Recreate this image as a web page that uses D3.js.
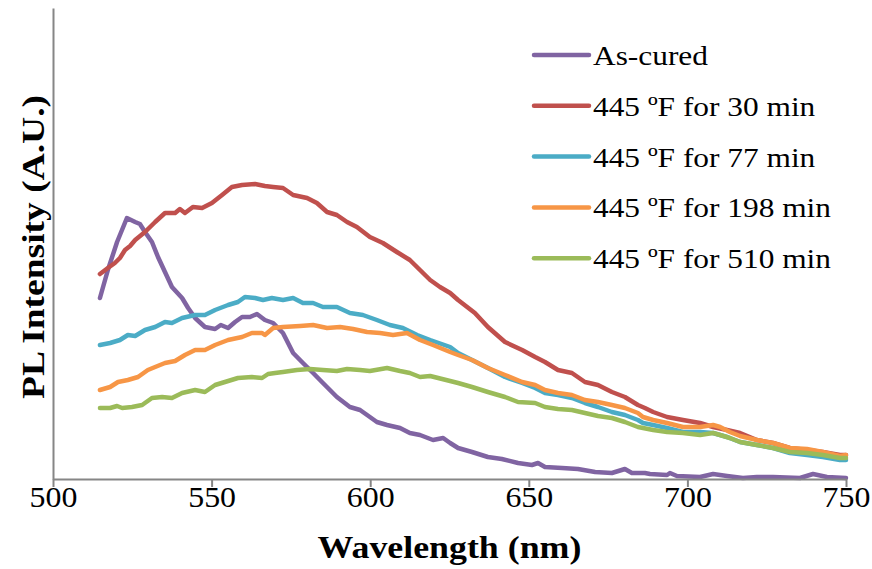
<!DOCTYPE html>
<html>
<head>
<meta charset="utf-8">
<script src="https://cdn.jsdelivr.net/npm/d3@7"></script>
<style>
  html, body { margin: 0; padding: 0; background: #fff; }
  svg text { font-family: "Liberation Serif", "Times New Roman", serif; fill: #000; }
</style>
</head>
<body>
<svg id="chart" width="872" height="569"></svg>
<script>
// PL spectra: [wavelength (nm), intensity (A.U.)]
const asCured = [
  [514.8,181],[517.3,209],[520.2,237],[523.3,261],[525.9,257],[527.4,255],[529.0,247],[531.2,237],
  [533.1,222],[535.3,207],[537.5,192],[540.7,181],[542.6,171],[544.8,161],[547.9,152],[551.1,150],
  [552.9,154],[555.2,151],[557.4,157],[559.6,162],[562.1,162],[564.3,165],[566.8,159],[569.4,156],
  [572.5,146],[575.7,126],[578.8,116],[582.0,106],[585.1,96],[589.5,82],[593.6,72],[596.8,69],
  [599.9,62],[602.1,57],[605.3,54],[609.4,51],[612.5,46],[615.7,44],[619.8,39],[623.0,41],
  [625.2,36],[627.7,31],[632.1,27],[637.1,22],[641.5,20],[646.6,16],[651.0,14],[652.9,16],
  [655.1,12],[660.5,11],[665.5,10],[670.9,7],[676.2,6],[680.3,10],[682.5,6],[686.6,6],
  [688.2,5],[693.6,4],[694.5,6],[696.7,3],[704.0,2],[708.1,5],[712.5,3],[717.5,1],
  [721.9,2],[727.0,2],[735.5,1],[739.6,5],[744.0,2],[750.0,1]
];
const f30 = [
  [514.8,205],[517.3,211],[519.5,216],[521.1,221],[522.7,229],[524.3,233],[525.9,239],[529.0,247],
  [532.2,257],[535.3,266],[538.5,266],[540.0,270],[541.6,266],[544.1,272],[547.0,271],[550.1,276],
  [553.3,284],[556.4,292],[559.6,294],[563.7,295],[566.8,293],[569.4,292],[572.5,291],[575.7,284],
  [580.1,281],[583.2,276],[586.4,267],[589.5,264],[592.7,257],[595.8,252],[599.9,242],[604.0,236],
  [608.4,227],[612.5,219],[615.7,209],[618.9,199],[622.0,192],[625.2,186],[627.7,179],[633.0,166],
  [637.1,152],[642.5,137],[647.9,129],[652.0,122],[655.1,117],[659.2,109],[663.6,106],[667.7,97],
  [671.8,94],[676.2,87],[680.3,82],[684.4,74],[686.6,71],[689.2,67],[693.6,62],[698.6,59],
  [704.0,56],[708.1,52],[712.5,49],[716.6,46],[721.9,39],[727.0,36],[732.3,31],[737.7,29],
  [742.7,27],[748.1,24],[750.0,24]
];
const f77 = [
  [514.8,134],[518.0,136],[521.1,139],[523.6,144],[525.9,143],[529.0,149],[532.2,152],[535.3,157],
  [537.5,156],[540.7,161],[544.8,164],[547.9,164],[551.1,169],[555.2,174],[558.3,177],[560.5,182],
  [563.7,181],[566.2,179],[569.0,181],[572.5,179],[575.7,181],[578.8,176],[582.0,176],[585.1,172],
  [589.5,172],[593.6,166],[597.7,164],[602.1,159],[606.2,154],[610.3,151],[614.8,144],[618.9,139],
  [625.2,132],[627.7,126],[632.1,119],[637.1,111],[642.5,102],[647.9,96],[652.0,91],[655.1,86],
  [659.2,84],[663.6,81],[667.7,76],[671.8,72],[676.2,67],[680.3,64],[684.4,59],[686.0,56],
  [689.2,54],[693.6,51],[698.6,47],[704.0,47],[708.1,46],[712.5,42],[716.6,37],[721.9,34],
  [727.0,31],[732.3,26],[737.7,24],[742.7,22],[748.1,19],[750.0,19]
];
const f198 = [
  [514.8,89],[518.0,92],[520.5,97],[523.6,99],[526.8,102],[529.9,109],[532.2,112],[535.3,116],
  [538.5,118],[541.6,124],[544.8,129],[547.9,129],[551.1,134],[555.2,139],[559.6,142],[562.7,146],
  [565.9,146],[566.8,144],[569.4,151],[572.5,152],[577.9,153],[582.0,154],[586.4,151],[590.5,152],
  [594.6,150],[599.0,147],[603.1,146],[607.2,144],[611.6,146],[615.7,139],[619.8,134],[625.2,127],
  [627.7,124],[632.1,119],[637.1,111],[642.5,104],[647.9,97],[652.0,94],[655.1,89],[659.2,86],
  [663.6,84],[667.7,79],[671.8,77],[676.2,74],[680.3,71],[684.4,66],[686.0,62],[689.2,59],
  [693.6,56],[698.6,52],[704.0,52],[708.1,54],[710.3,52],[713.4,47],[716.6,43],[721.9,39],
  [727.0,36],[732.3,31],[737.7,30],[742.7,27],[748.1,23],[750.0,24]
];
const f510 = [
  [514.8,71],[518.0,71],[520.2,73],[521.8,71],[524.9,72],[528.1,74],[531.2,81],[534.4,82],
  [537.5,81],[540.7,86],[544.8,89],[547.9,87],[551.1,94],[554.2,97],[558.3,101],[562.7,102],
  [565.9,101],[567.8,105],[570.0,106],[572.5,107],[576.9,109],[581.0,110],[585.1,109],[589.5,108],
  [592.7,110],[596.8,109],[599.9,108],[605.3,111],[609.4,108],[612.5,106],[615.7,102],[618.9,103],
  [625.2,98],[627.7,96],[632.1,92],[637.1,87],[642.5,82],[646.6,77],[652.0,76],[655.1,72],
  [659.2,70],[663.6,69],[667.7,66],[671.8,63],[676.2,61],[680.3,57],[684.4,52],[689.2,49],
  [693.6,47],[698.6,46],[704.0,44],[708.1,46],[710.3,44],[713.4,41],[716.6,37],[721.9,34],
  [727.0,31],[732.3,27],[737.7,26],[742.7,24],[748.1,21],[750.0,21]
];

const seriesNames = ["As-cured", "445 ºF for 30 min", "445 ºF for 77 min", "445 ºF for 198 min", "445 ºF for 510 min"];
const seriesData = [asCured, f30, f77, f198, f510];
const seriesColors = ["#8064A2", "#C0504D", "#4BACC6", "#F79646", "#9BBB59"];
const xTicks = [500, 550, 600, 650, 700, 750];
const xDomain = [500, 750];
const yDomain = [0, 471];

const svg = d3.select("#chart");
const axisColor = "#868686";
const hStretch = 1.1;

const x = d3.scaleLinear().domain(xDomain).range([53, 846]);
const y = d3.scaleLinear().domain(yDomain).range([479, 8]);

// widen glyphs horizontally to the chart's typeface proportions
function widen(sel, k) {
  sel.each(function () {
    const w = this.getComputedTextLength();
    d3.select(this).attr("textLength", w * k).attr("lengthAdjust", "spacingAndGlyphs");
  });
}

// spectra
const line = d3.line().x(d => x(d[0])).y(d => y(d[1])).curve(d3.curveLinear);
svg.append("g").selectAll("path")
  .data(seriesData)
  .join("path")
  .attr("d", line)
  .attr("fill", "none")
  .attr("stroke", (d, i) => seriesColors[i])
  .attr("stroke-width", 4.5)
  .attr("stroke-linejoin", "round")
  .attr("stroke-linecap", "round");

// x axis
const gx = svg.append("g").attr("transform", `translate(0,${y(0)})`)
  .call(d3.axisBottom(x).tickValues(xTicks).tickSize(8).tickSizeOuter(0));
gx.select(".domain").attr("stroke", axisColor).attr("stroke-width", 2);
gx.selectAll(".tick line").attr("stroke", axisColor).attr("stroke-width", 2);
gx.selectAll(".tick text")
  .attr("font-size", 29).attr("font-family", "Liberation Serif, serif")
  .attr("dy", null).attr("y", 28);
gx.selectAll(".tick text").call(widen, hStretch);

// y axis (no tick labels)
const gy = svg.append("g").attr("transform", `translate(${x(500)},0)`)
  .call(d3.axisLeft(y).tickValues([]).tickSizeOuter(0));
gy.select(".domain").attr("stroke", axisColor).attr("stroke-width", 2);

// axis titles
svg.append("text")
  .attr("x", (x(500) + x(750)) / 2).attr("y", 558)
  .attr("text-anchor", "middle")
  .attr("font-size", 32).attr("font-weight", "bold")
  .text("Wavelength (nm)")
  .call(widen, 1.12);

svg.append("text")
  .attr("transform", `translate(44,${247}) rotate(-90)`)
  .attr("text-anchor", "middle")
  .attr("font-size", 32).attr("font-weight", "bold")
  .text("PL Intensity (A.U.)")
  .attr("textLength", 304).attr("lengthAdjust", "spacingAndGlyphs");

// legend
const legend = svg.append("g");
const rows = legend.selectAll("g")
  .data(seriesNames)
  .join("g")
  .attr("transform", (d, i) => `translate(534,${55 + i * 50.8})`);
rows.append("line")
  .attr("x1", 0).attr("x2", 55).attr("y1", 0).attr("y2", 0)
  .attr("stroke", (d, i) => seriesColors[i])
  .attr("stroke-width", 4.5).attr("stroke-linecap", "round");
rows.append("text")
  .attr("x", 59).attr("y", 10)
  .attr("font-size", 28)
  .text(d => d)
  .call(widen, 1.12);
</script>
</body>
</html>
